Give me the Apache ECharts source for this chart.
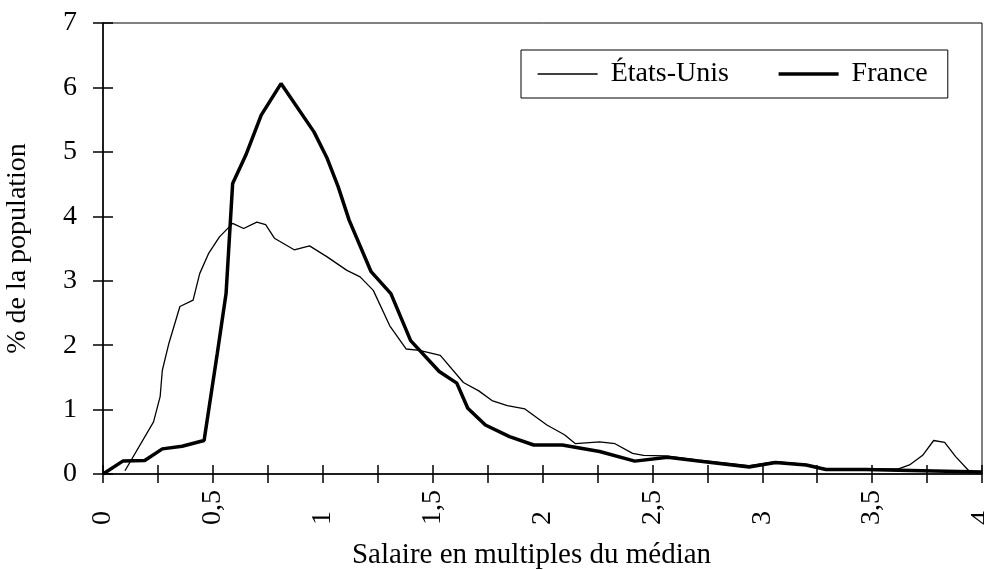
<!DOCTYPE html>
<html>
<head>
<meta charset="utf-8">
<script src="https://cdn.jsdelivr.net/npm/echarts@6/dist/echarts.min.js"></script>
<style>
  html, body { margin: 0; padding: 0; background: #fff; }
  #chart { width: 984px; height: 570px; }
</style>
</head>
<body>
<div id="chart"></div>
<script>
var serif = 'Liberation Serif';

// États-Unis (ligne fine)
var usX = [0.10, 0.23, 0.26, 0.27, 0.30, 0.35, 0.41, 0.44, 0.48, 0.53, 0.59, 0.64, 0.70, 0.74, 0.78, 0.87, 0.94,
  1.02, 1.11, 1.17, 1.23, 1.305, 1.38, 1.44, 1.535, 1.64, 1.71, 1.77, 1.84, 1.92, 2.02, 2.10, 2.15, 2.26, 2.33,
  2.41, 2.46, 2.56, 2.71, 2.94, 3.06, 3.20, 3.29, 3.47, 3.62, 3.67, 3.73, 3.78, 3.83, 3.88, 3.94];
var usY = [0.05, 0.81, 1.20, 1.61, 2.03, 2.60, 2.70, 3.11, 3.42, 3.68, 3.89, 3.81, 3.91, 3.87, 3.66, 3.48, 3.54,
  3.37, 3.16, 3.06, 2.85, 2.30, 1.94, 1.92, 1.84, 1.42, 1.29, 1.14, 1.06, 1.01, 0.76, 0.61, 0.47, 0.50, 0.47,
  0.32, 0.29, 0.28, 0.22, 0.13, 0.19, 0.15, 0.08, 0.08, 0.08, 0.14, 0.29, 0.52, 0.49, 0.27, 0.05];

// France (ligne épaisse)
var frX = [0, 0.09, 0.19, 0.27, 0.36, 0.46, 0.52, 0.56, 0.59, 0.65, 0.72, 0.81, 0.96, 1.02, 1.07, 1.12, 1.22,
  1.31, 1.40, 1.53, 1.61, 1.66, 1.74, 1.85, 1.96, 2.09, 2.26, 2.42, 2.57, 2.71, 2.94, 3.06, 3.20, 3.29, 3.47,
  3.62, 4.00];
var frY = [0, 0.20, 0.21, 0.39, 0.43, 0.52, 1.87, 2.80, 4.51, 4.95, 5.57, 6.06, 5.31, 4.90, 4.46, 3.94, 3.14,
  2.80, 2.07, 1.59, 1.41, 1.02, 0.76, 0.58, 0.45, 0.45, 0.35, 0.20, 0.26, 0.20, 0.11, 0.18, 0.14, 0.07, 0.07,
  0.06, 0.03];

function pairs(xs, ys) {
  return xs.map(function (x, i) { return [x, ys[i]]; });
}

function xLabel(v) {
  var d = v * 2;
  if (Math.abs(d - Math.round(d)) > 1e-6) return '';
  return String(Math.round(v * 100) / 100).replace('.', ',');
}

var chart = echarts.init(document.getElementById('chart'));
option = {
  backgroundColor: '#fff',
  animation: false,
  textStyle: { fontFamily: serif, color: '#000' },
  grid: {
    left: 103, right: 2, top: 23, bottom: 96,
    outerBoundsMode: 'none', containLabel: false,
    show: true, borderColor: '#000', borderWidth: 1
  },
  legend: {
    left: 521, top: 50,
    padding: [10, 20, 10, 16],
    borderColor: '#000', borderWidth: 1,
    itemWidth: 60, itemHeight: 14, itemGap: 48,
    itemStyle: { opacity: 0 },
    textStyle: { fontFamily: serif, fontSize: 28, color: '#000', padding: [0, 0, 0, 8] },
    data: [
      { name: 'États-Unis', lineStyle: { width: 1.3, color: '#000' } },
      { name: 'France', lineStyle: { width: 3.5, color: '#000' } }
    ]
  },
  xAxis: [{
    type: 'value', min: 0, max: 4, interval: 0.25,
    name: 'Salaire en multiples du médian',
    nameLocation: 'middle', nameGap: 67,
    nameTextStyle: { fontFamily: serif, fontSize: 29, color: '#000', padding: [0, 22, 0, 0] },
    axisLine: { lineStyle: { color: '#000', width: 1.5 } },
    axisTick: { show: true, inside: false, length: 9, lineStyle: { color: '#000', width: 1.5 } },
    axisLabel: { rotate: 90, align: 'left', margin: 51, formatter: xLabel,
      fontFamily: serif, fontSize: 28, color: '#000' },
    splitLine: { show: false }
  }, {
    type: 'value', min: 0, max: 4, interval: 0.25, position: 'bottom',
    axisLine: { show: false },
    axisTick: { show: true, inside: true, length: 9, lineStyle: { color: '#000', width: 1.5 } },
    axisLabel: { show: false },
    splitLine: { show: false }
  }],
  yAxis: [{
    type: 'value', min: 0, max: 7, interval: 1,
    name: '% de la population',
    nameLocation: 'middle', nameGap: 71,
    nameTextStyle: { fontFamily: serif, fontSize: 28, color: '#000' },
    axisLine: { show: true, lineStyle: { color: '#000', width: 1.5 } },
    axisTick: { show: true, inside: false, length: 10, lineStyle: { color: '#000', width: 1.5 } },
    axisLabel: { margin: 26, fontFamily: serif, fontSize: 28, color: '#000' },
    splitLine: { show: false }
  }, {
    type: 'value', min: 0, max: 7, interval: 1, position: 'left',
    axisLine: { show: false },
    axisTick: { show: true, inside: true, length: 10, lineStyle: { color: '#000', width: 1.5 } },
    axisLabel: { show: false },
    splitLine: { show: false }
  }],
  series: [{
    name: 'États-Unis', type: 'line', showSymbol: false, symbol: 'none',
    lineStyle: { color: '#000', width: 1.3 }, itemStyle: { color: '#000' },
    data: pairs(usX, usY)
  }, {
    name: 'France', type: 'line', showSymbol: false, symbol: 'none',
    lineStyle: { color: '#000', width: 3.5 }, itemStyle: { color: '#000' },
    data: pairs(frX, frY)
  }]
};
chart.setOption(option);
</script>
</body>
</html>
